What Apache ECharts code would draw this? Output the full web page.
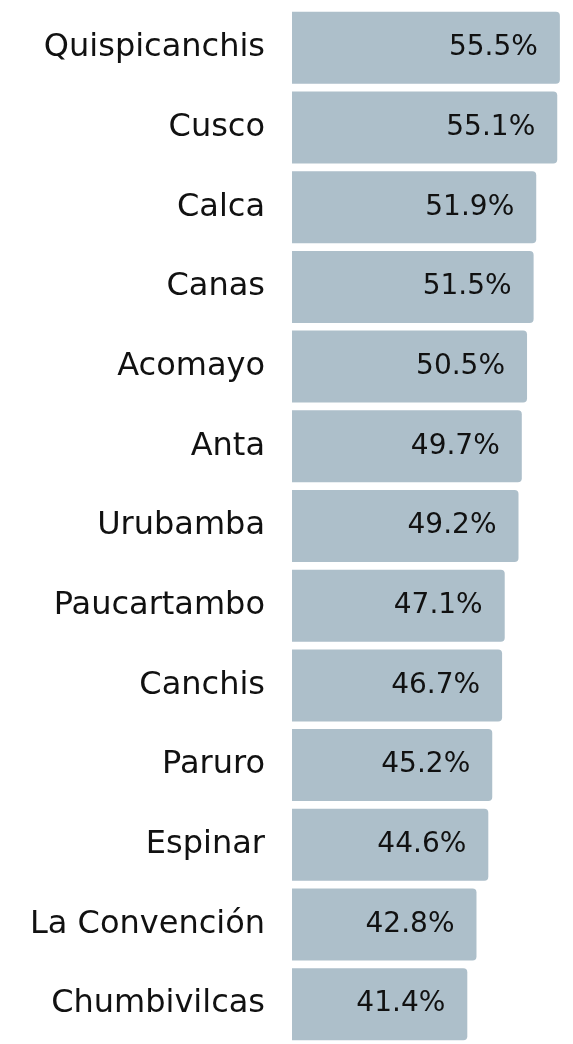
<!DOCTYPE html>
<html>
<head>
<meta charset="utf-8">
<script src="https://cdn.jsdelivr.net/npm/echarts@6/dist/echarts.min.js"></script>
<style>
  html, body { margin: 0; padding: 0; background: #fff; }
  #chart { width: 573px; height: 1044px; }
</style>
</head>
<body>
<div id="chart"></div>
<script>
var provincias = ['Quispicanchis', 'Cusco', 'Calca', 'Canas', 'Acomayo', 'Anta', 'Urubamba',
  'Paucartambo', 'Canchis', 'Paruro', 'Espinar', 'La Convención', 'Chumbivilcas'];
var porcentajes = [55.5, 55.1, 51.9, 51.5, 50.5, 49.7, 49.2, 47.1, 46.7, 45.2, 44.6, 42.8, 41.4];

var chartDom = document.getElementById('chart');
var myChart = echarts.init(chartDom);
var option = {
  animation: false,
  grid: { left: 292, right: 0, top: 8, bottom: -4 },
  xAxis: {
    type: 'value',
    min: 14.7,
    max: 57.5,
    show: false
  },
  yAxis: {
    type: 'category',
    inverse: true,
    data: provincias,
    axisLine: { show: false },
    axisTick: { show: false },
    axisLabel: {
      margin: 27,
      fontSize: 32,
      fontFamily: 'DejaVu Sans',
      color: '#111',
      padding: [4, 0, 0, 0]
    }
  },
  series: [
    {
      type: 'bar',
      data: porcentajes,
      barWidth: 72,
      itemStyle: {
        color: '#adbfca',
        borderRadius: [0, 4, 4, 0]
      },
      label: {
        show: true,
        position: 'insideRight',
        distance: 22,
        fontSize: 28,
        fontFamily: 'DejaVu Sans',
        color: '#111',
        padding: [4, 0, 0, 0],
        formatter: function (p) { return p.value.toFixed(1) + '%'; }
      }
    }
  ]
};
myChart.setOption(option);
</script>
</body>
</html>
